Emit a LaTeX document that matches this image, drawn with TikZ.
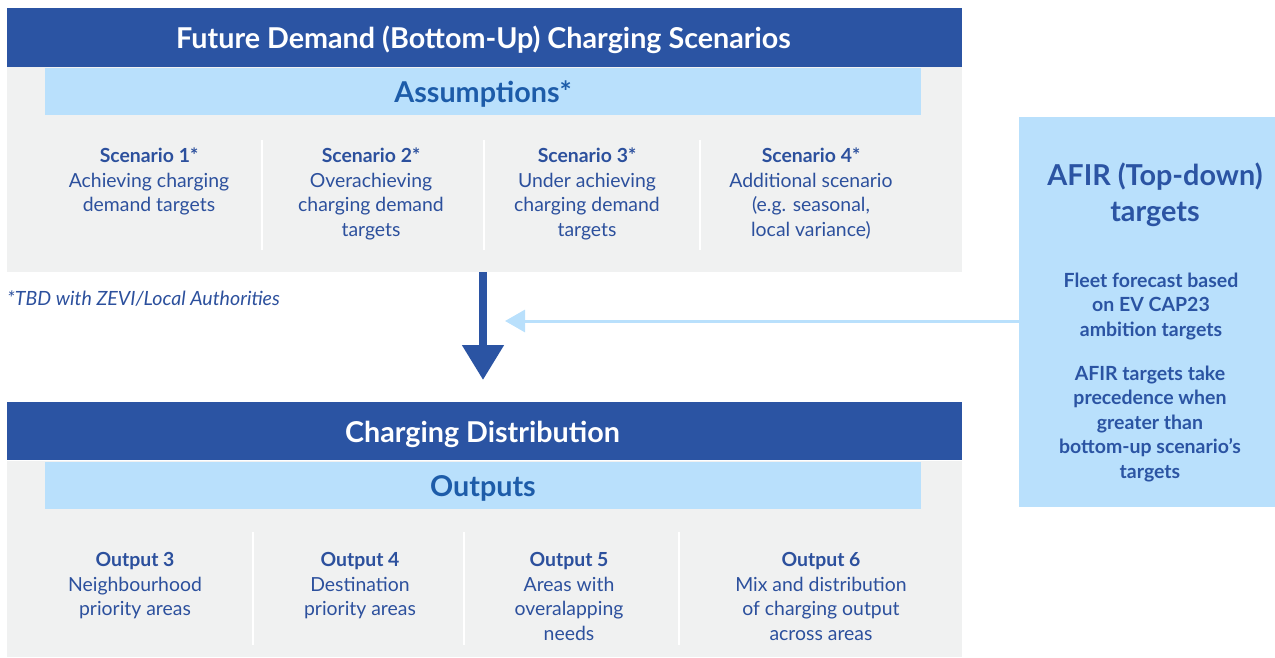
\documentclass[tikz,border=0pt]{standalone}
\usepackage{fontspec}
\setmainfont{Lato}
\usetikzlibrary{arrows.meta}
\definecolor{navy}{HTML}{2B54A3}
\definecolor{sky}{HTML}{B9E0FC}
\definecolor{panelgrey}{HTML}{F0F1F1}
\definecolor{bandtext}{HTML}{1D5CA9}
\definecolor{bodytext}{HTML}{2C509D}
\tikzset{
  box/.style={anchor=north west, inner sep=0pt, outer sep=0pt},
  panel/.style={box, fill=panelgrey, minimum width=955pt},
  header/.style={box, fill=navy, minimum width=955pt, minimum height=59pt},
  band/.style={box, fill=sky, minimum width=876pt, minimum height=47pt},
  headtext/.style={anchor=base, inner sep=0pt, text=white, font=\fontsize{28.7}{32}\selectfont\bfseries},
  bandlabel/.style={anchor=base, inner sep=0pt, text=bandtext, font=\fontsize{28.7}{32}\selectfont\bfseries},
  coltext/.style={anchor=north, align=center, inner sep=0pt, text=bodytext,
    font=\fontsize{19.4}{24.7}\selectfont},
  sep/.style={draw=white, line width=2pt},
  afirtext/.style={align=center, inner sep=0pt, text=navy},
}
\begin{document}
\begin{tikzpicture}[x=1pt, y=-1pt]
\useasboundingbox (0,0) rectangle (1275,658);

% ---------- scenarios panel ----------
\node[panel, minimum height=264pt] (top) at (7,8) {};
\node[header] (tophead) at (7,8) {};
\node[headtext] (toptitle) at (483.5,48.5) {Future Demand (Bottom-Up) Charging Scenarios};
\node[band] (assum) at (45,68) {};
\node[bandlabel] (assumlabel) at (483,102.5) {Assumptions*};

\foreach \x in {262,484,700} \draw[sep] (\x,140) -- (\x,250);
\node[coltext] (s1) at (149,147.5) {\textbf{Scenario 1*}\\Achieving charging\\demand targets};
\node[coltext] (s2) at (371,147.5) {\textbf{Scenario 2*}\\Overachieving\\charging demand\\targets};
\node[coltext] (s3) at (587,147.5) {\textbf{Scenario 3*}\\Under achieving\\charging demand\\targets};
\node[coltext] (s4) at (811,147.5) {\textbf{Scenario 4*}\\Additional scenario\\(e.g. seasonal,\\local variance)};

\node[anchor=west, inner sep=0pt, text=bodytext, font=\fontsize{19.6}{22}\selectfont\itshape]
  (note) at (7,299) {*TBD with ZEVI/Local Authorities};

% ---------- distribution panel ----------
\node[panel, minimum height=255pt] (bot) at (7,402) {};
\node[header, minimum height=58pt] (bothead) at (7,402) {};
\node[headtext] (bottitle) at (482.5,442) {Charging Distribution};
\draw[white, line width=1pt] (7,460.5) -- (962,460.5);
\node[band] (outs) at (45,462) {};
\node[bandlabel] (outslabel) at (483,496) {Outputs};

\foreach \x in {253,464,679} \draw[sep] (\x,532) -- (\x,645);
\node[coltext] (o3) at (135,552) {\textbf{Output 3}\\Neighbourhood\\priority areas};
\node[coltext] (o4) at (360,552) {\textbf{Output 4}\\Destination\\priority areas};
\node[coltext] (o5) at (569,552) {\textbf{Output 5}\\Areas with\\overalapping\\needs};
\node[coltext] (o6) at (821,552) {\textbf{Output 6}\\Mix and distribution\\of charging output\\across areas};

% ---------- AFIR box ----------
\node[box, fill=sky, minimum width=256pt, minimum height=390pt] (afir) at (1019,117) {};
\node[afirtext, font=\fontsize{28.8}{36}\selectfont\bfseries] (afirtitle) at (1155,195)
  {AFIR (Top-down)\\targets};
\node[afirtext, font=\fontsize{19.5}{24.5}\selectfont\bfseries] (fleet) at (1151,306.5)
  {Fleet forecast based\\on EV CAP23\\ambition targets};
\node[afirtext, font=\fontsize{19.5}{24.5}\selectfont\bfseries] (prec) at (1150,424)
  {AFIR targets take\\precedence when\\greater than\\bottom-up scenario’s\\targets};

% ---------- connectors ----------
\coordinate (down) at (483,380);
\draw[navy, line width=8pt, -{Triangle[length=35pt, width=40pt]}] (top.south -| down) -- (down);
\coordinate (left) at (505,321);
\draw[sky, line width=3pt, -{Triangle[length=20pt, width=22pt]}] (afir.west |- left) -- (left);
\end{tikzpicture}
\end{document}
